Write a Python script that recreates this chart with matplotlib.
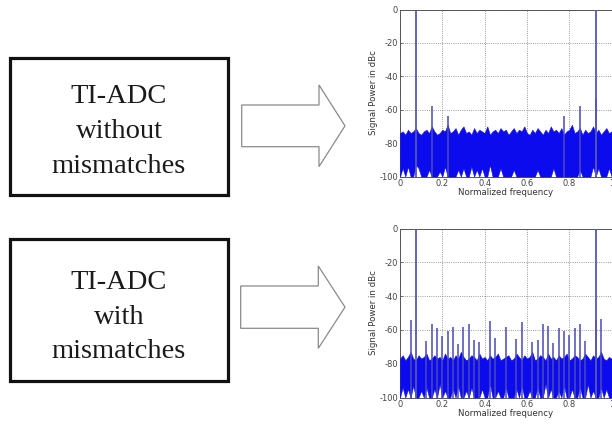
import numpy as np
import matplotlib
matplotlib.use("Agg")
import matplotlib.pyplot as plt
from matplotlib.patches import Rectangle, Polygon

# ---------------- data ----------------
box_labels_top = ["TI-ADC", "without", "mismatches"]
box_labels_bottom = ["TI-ADC", "with", "mismatches"]

x_ticks = [0, 0.2, 0.4, 0.6, 0.8, 1]
x_tick_labels = ["0", "0.2", "0.4", "0.6", "0.8", "1"]
y_ticks = [0, -20, -40, -60, -80, -100]
y_tick_labels = ["0", "-20", "-40", "-60", "-80", "-100"]
x_label = "Normalized frequency"
y_label = "Signal Power in dBc"

# fundamental tone and its image (both plots)
tone_freqs = [0.075, 0.925]
tone_levels = [0, 0]

# spurs, ideal TI-ADC
spur_freqs_ideal = [0.15, 0.225, 0.775, 0.85, 0.925]
spur_levels_ideal = [-58, -63.5, -63.5, -58, -53]

# spurs, TI-ADC with mismatches
spur_freqs_mis = [0.05, 0.125, 0.15, 0.175, 0.2, 0.225, 0.25, 0.275, 0.3, 0.325,
                  0.35, 0.375, 0.425, 0.45, 0.5, 0.55, 0.575, 0.625, 0.65, 0.675,
                  0.7, 0.725, 0.75, 0.775, 0.8, 0.825, 0.85, 0.875, 0.925, 0.95]
spur_levels_mis = [-54, -66.4, -56.5, -58.7, -63.5, -60.5, -58.5, -68.5, -58, -56.5,
                   -65.7, -67, -55, -65, -58, -65.4, -55.5, -67, -66, -56.7,
                   -57.7, -68, -58.7, -60.7, -63, -59, -56.5, -66.5, -54, -53.8]

# noise floor envelope (upper / lower edge), ideal TI-ADC
noise_hi_ideal = [-74, -73, -75, -72, -74, -73, -71, -74, -75, -73,
                  -72, -74, -70, -73, -75, -74, -72, -73, -69, -74,
                  -73, -71, -75, -72, -70, -74, -73, -75, -71, -74,
                  -72, -73, -74, -70, -75, -73, -72, -74, -71, -73,
                  -72, -75, -73, -71, -74, -72, -73, -70, -74, -75,
                  -72, -74, -71, -73, -75, -72, -74, -70, -73, -72,
                  -74, -71, -75, -73, -72, -69, -74, -73, -71, -75,
                  -72, -74, -73, -70, -74, -72, -75, -73, -71, -74, -73]
noise_lo_ideal = [-100, -95, -100, -94, -100, -100, -93, -95, -100, -100,
                  -100, -96, -100, -100, -100, -97, -100, -94, -100, -100,
                  -100, -100, -96, -100, -95, -100, -100, -94, -100, -96,
                  -100, -95, -100, -100, -93, -100, -100, -100, -95, -100,
                  -100, -100, -100, -96, -100, -100, -100, -100, -100, -100,
                  -100, -100, -96, -100, -100, -100, -100, -100, -95, -100,
                  -100, -100, -100, -100, -100, -100, -100, -100, -96, -100,
                  -100, -100, -100, -94, -100, -95, -100, -100, -100, -95, -100]

# noise floor envelope (upper / lower edge), TI-ADC with mismatches
noise_hi_mis = [-77, -75, -78, -76, -73, -77, -78, -75, -77, -76,
                -74, -78, -77, -75, -77, -76, -78, -74, -77, -76,
                -78, -75, -77, -73, -76, -78, -77, -75, -76, -78,
                -74, -77, -76, -78, -75, -77, -76, -74, -78, -77,
                -76, -75, -78, -77, -74, -76, -78, -75, -77, -76,
                -73, -78, -77, -75, -76, -78, -74, -77, -76, -78,
                -75, -77, -76, -74, -78, -77, -75, -76, -78, -77,
                -74, -76, -78, -75, -77, -76, -73, -77, -78, -76, -77]
noise_lo_mis = [-100, -94, -100, -95, -100, -93, -100, -100, -96, -100,
                -94, -100, -100, -95, -100, -92, -100, -96, -100, -100,
                -95, -100, -93, -100, -100, -96, -100, -94, -100, -100,
                -100, -95, -100, -100, -92, -100, -100, -96, -100, -100,
                -94, -100, -100, -100, -95, -100, -93, -100, -100, -96,
                -100, -100, -94, -100, -100, -92, -100, -95, -100, -100,
                -96, -100, -93, -100, -100, -95, -100, -100, -94, -100,
                -100, -92, -100, -96, -100, -100, -94, -100, -95, -100, -100]

# ---------------- figure ----------------
W, H = 612, 424
fig = plt.figure(figsize=(W / 100, H / 100), dpi=100)
fig.patch.set_facecolor("white")

# overlay for the block diagram, in pixel coordinates
ov = fig.add_axes([0, 0, 1, 1])
ov.set_xlim(0, W)
ov.set_ylim(H, 0)
ov.axis("off")

serif = ["Liberation Serif", "DejaVu Serif"]


def draw_block(y0, y1, labels, baselines):
    ov.add_patch(Rectangle((9.5, y0), 218, y1 - y0, fill=False,
                           edgecolor="#111111", lw=2.3))
    for lab, b in zip(labels, baselines):
        ov.text(119, b, lab, ha="center", va="baseline", fontsize=20.5,
                family=serif, color="#1a1a1a")


def draw_arrow(xb0, xb1, yb0, yb1, yh0, yh1, xtip):
    ytip = (yh0 + yh1) / 2
    pts = [(xb0, yb0), (xb1, yb0), (xb1, yh0), (xtip, ytip),
           (xb1, yh1), (xb1, yb1), (xb0, yb1)]
    ov.add_patch(Polygon(pts, closed=True, facecolor="white",
                         edgecolor="#8a8a8a", lw=0.9))


draw_block(57.5, 195, box_labels_top, [103.3, 138.3, 173.3])
draw_block(238.5, 380.5, box_labels_bottom, [289.3, 323.5, 358.3])
draw_arrow(241.7, 319, 105, 146.7, 85, 166.7, 345)
draw_arrow(240.7, 318.3, 286, 328.3, 266, 348.3, 345)


def make_spec(top_px, bot_px, hi, lo, sf, sl):
    left = 400 / W
    width = 211.6 / W
    ax = fig.add_axes([left, 1 - bot_px / H, width, (bot_px - top_px) / H])
    f = np.linspace(0, 1, len(hi))
    ax.fill_between(f, lo, hi, color="#0b0bee", lw=0.4, edgecolor="#0b0bee",
                    zorder=3)
    ax.vlines(sf, -100, sl, color="#4a4ab6", lw=1.1, zorder=4)
    ax.vlines(tone_freqs, -100, tone_levels, color="#5656b4", lw=1.3, zorder=4)
    ax.set_xlim(0, 1)
    ax.set_ylim(-100, 0)
    ax.set_xticks(x_ticks)
    ax.set_xticklabels(x_tick_labels)
    ax.set_yticks(y_ticks)
    ax.set_yticklabels(y_tick_labels)
    ax.grid(True, ls=":", color="#7a7a7a", lw=0.6, zorder=1)
    ax.set_axisbelow(True)
    ax.tick_params(labelsize=6, colors="#444444", length=2, direction="in",
                   pad=1.5, width=0.5)
    for s in ax.spines.values():
        s.set_color("#555555")
        s.set_linewidth(0.7)
    ax.set_xlabel(x_label, fontsize=6.2, color="#333333", labelpad=0.5)
    ax.set_ylabel(y_label, fontsize=6.2, color="#333333", labelpad=1)
    return ax


make_spec(9.5, 176.5, noise_hi_ideal, noise_lo_ideal,
          spur_freqs_ideal, spur_levels_ideal)
make_spec(228.5, 397.5, noise_hi_mis, noise_lo_mis,
          spur_freqs_mis, spur_levels_mis)

fig.savefig("out.png", dpi=100, facecolor="white")
